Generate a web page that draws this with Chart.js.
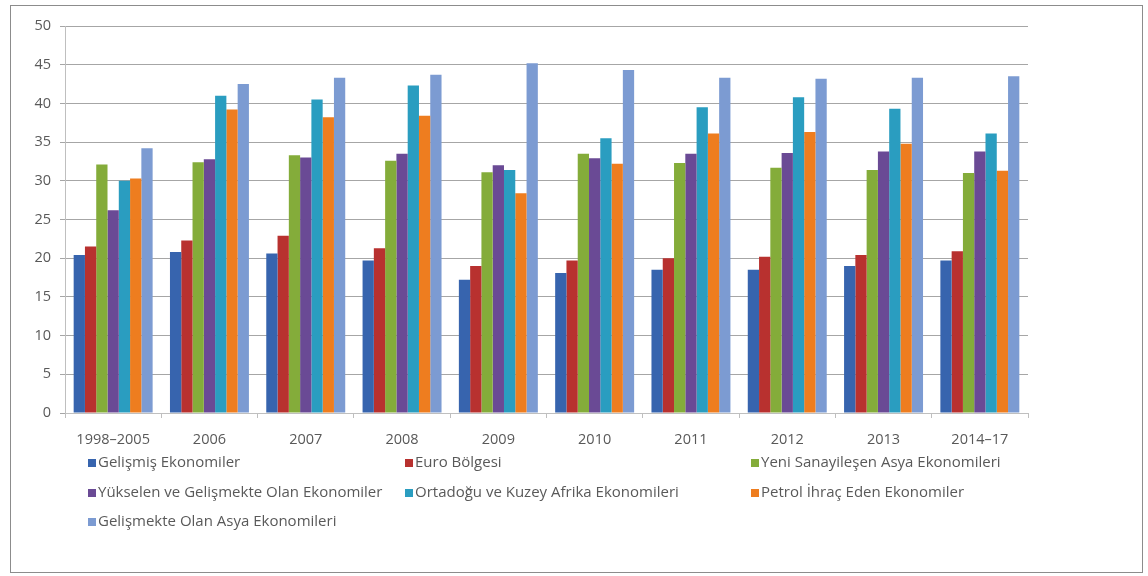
<!DOCTYPE html>
<html lang="tr">
<head>
<meta charset="utf-8">
<title>Ekonomi grupları</title>
<script src="https://cdn.jsdelivr.net/npm/chart.js@4/dist/chart.umd.min.js"></script>
<style>
  html, body { margin: 0; padding: 0; background: #ffffff; }
  canvas { display: block; }
</style>
</head>
<body>
<canvas id="c" width="1148" height="576"></canvas>
<script>
// Dönemler (x ekseni)
const categories = ['1998–2005', '2006', '2007', '2008', '2009', '2010', '2011', '2012', '2013', '2014–17'];

// Seri değerleri
const gelismis   = [20.4, 20.8, 20.6, 19.7, 17.2, 18.1, 18.5, 18.5, 19.0, 19.7];
const euro       = [21.5, 22.3, 22.9, 21.3, 19.0, 19.7, 20.0, 20.2, 20.4, 20.9];
const yeniSanayi = [32.1, 32.4, 33.3, 32.6, 31.1, 33.5, 32.3, 31.7, 31.4, 31.0];
const yukselen   = [26.2, 32.8, 33.0, 33.5, 32.0, 32.9, 33.5, 33.6, 33.8, 33.8];
const ortadogu   = [30.0, 41.0, 40.5, 42.3, 31.4, 35.5, 39.5, 40.8, 39.3, 36.1];
const petrol     = [30.3, 39.2, 38.2, 38.4, 28.4, 32.2, 36.1, 36.3, 34.8, 31.3];
const asya       = [34.2, 42.5, 43.3, 43.7, 45.2, 44.3, 43.3, 43.2, 43.3, 43.5];

// Seri adları
const seriesNames = [
  'Gelişmiş Ekonomiler',
  'Euro Bölgesi',
  'Yeni Sanayileşen Asya Ekonomileri',
  'Yükselen ve Gelişmekte Olan Ekonomiler',
  'Ortadoğu ve Kuzey Afrika Ekonomileri',
  'Petrol İhraç Eden Ekonomiler',
  'Gelişmekte Olan Asya Ekonomileri'
];

// Y ekseni etiketleri
const yTicks = [0, 5, 10, 15, 20, 25, 30, 35, 40, 45, 50];

const seriesValues = [gelismis, euro, yeniSanayi, yukselen, ortadogu, petrol, asya];
const colors = ['#3764AE', '#B8312F', '#84AC3A', '#6A4A95', '#2A9DC0', '#EE7D1F', '#7C9BD2'];

const FONT = '"Open Sans", Lato, sans-serif';
const TEXT = '#595959';

// Dış çerçeve
const framePlugin = {
  id: 'frame',
  beforeDraw(chart) {
    const ctx = chart.ctx;
    ctx.save();
    ctx.fillStyle = '#ffffff';
    ctx.fillRect(0, 0, chart.width, chart.height);
    ctx.strokeStyle = '#8C8C8C';
    ctx.lineWidth = 1;
    ctx.strokeRect(10.5, 5.5, 1132, 567);
    ctx.restore();
  }
};

// Üç sütunlu açıklama
const gridLegend = {
  id: 'gridLegend',
  afterDraw(chart) {
    const ctx = chart.ctx;
    const colX = [88, 405, 751];
    const rowY = [463, 493, 522];
    ctx.save();
    ctx.font = '15px ' + FONT;
    ctx.textBaseline = 'middle';
    ctx.textAlign = 'left';
    chart.data.datasets.forEach((ds, i) => {
      const x = colX[i % 3];
      const y = rowY[Math.floor(i / 3)];
      ctx.fillStyle = ds.backgroundColor;
      ctx.fillRect(x, y - 4, 8, 8);
      ctx.fillStyle = TEXT;
      ctx.fillText(ds.label, x + 10, y);
    });
    ctx.restore();
  }
};

const datasets = seriesNames.map((name, i) => ({
  label: name,
  data: seriesValues[i],
  backgroundColor: colors[i],
  borderWidth: 0,
  categoryPercentage: 0.82,
  barPercentage: 1.0
}));

new Chart(document.getElementById('c'), {
  type: 'bar',
  data: { labels: categories, datasets },
  plugins: [framePlugin, gridLegend],
  options: {
    responsive: false,
    animation: false,
    layout: { padding: { left: 10, right: 120, top: 26, bottom: 0 } },
    plugins: {
      legend: { display: false },
      tooltip: { enabled: false }
    },
    scales: {
      x: {
        offset: true,
        grid: {
          offset: true,
          drawOnChartArea: false,
          drawTicks: true,
          tickLength: 5,
          color: '#BFBFBF'
        },
        border: { color: '#BFBFBF' },
        ticks: { color: TEXT, font: { family: FONT, size: 14.5 }, padding: 13, maxRotation: 0 },
        afterFit(scale) { scale.height = 163; }
      },
      y: {
        min: 0,
        max: 50,
        afterBuildTicks(scale) { scale.ticks = yTicks.map(v => ({ value: v })); },
        grid: { color: '#A6A6A6', tickLength: 5 },
        border: { color: '#BFBFBF' },
        ticks: { color: TEXT, font: { family: FONT, size: 14.5 }, padding: 9 },
        afterFit(scale) { scale.width = 55; }
      }
    }
  }
});
</script>
</body>
</html>
